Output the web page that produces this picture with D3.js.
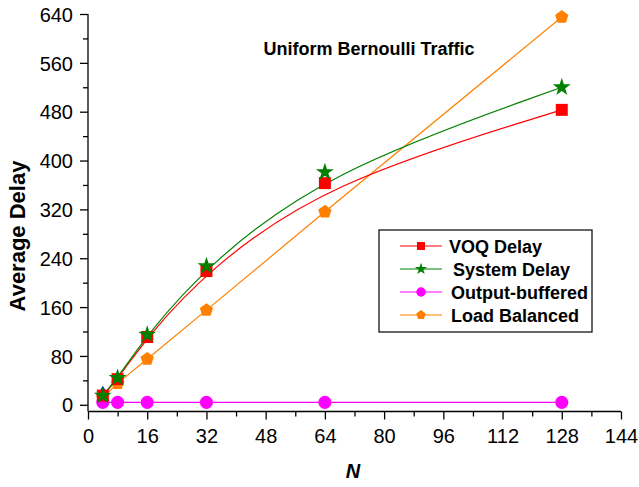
<!DOCTYPE html>
<html><head><meta charset="utf-8">
<script src="https://cdn.jsdelivr.net/npm/d3@7"></script>
<style>body{margin:0;background:#fff}text{font-family:"Liberation Sans",Arial,sans-serif}</style>
</head><body><svg id="c" width="639" height="487"></svg>
<script>
const nValues = [4, 8, 16, 32, 64, 128];
const voqDelay = [15, 42, 111, 219, 363, 483];
const systemDelay = [15, 44, 115, 227, 381, 520];
const outputBuffered = [4, 4, 4, 4, 4, 4];
const loadBalanced = [12, 35, 75, 155, 316, 635];
const extraN = [4];
const extraSeries = [20];
const xTicks = [0,16,32,48,64,80,96,112,128,144];
const yTicks = [0,80,160,240,320,400,480,560,640];

const svg = d3.select("#c");
const x = d3.scaleLinear().domain([0,144]).range([88,621]);
const y = d3.scaleLinear().domain([-11,640]).range([411.5,14]);

// axes
const xAxis = d3.axisBottom(x).tickValues(d3.range(0,145,8)).tickSize(7)
  .tickFormat(d => xTicks.includes(d) ? d : "");
const gx = svg.append("g").attr("transform",`translate(0,${y(-11)})`).call(xAxis);
gx.selectAll(".tick line").attr("y2", d => xTicks.includes(d) ? 8 : 5);
const yAxis = d3.axisLeft(y).tickValues(d3.range(0,641,40)).tickSize(7)
  .tickFormat(d => yTicks.includes(d) ? d : "");
const gy = svg.append("g").attr("transform",`translate(${x(0)},0)`).call(yAxis);
gy.selectAll(".tick line").attr("x2", d => yTicks.includes(d) ? -8 : -5);
[gx,gy].forEach(g=>{
  g.select(".domain").attr("stroke","#000").attr("stroke-width",1.3).attr("d", g===gx ? `M${x(0)},0H${x(144)}` : `M0,${y(640)}V${y(-11)}`);
  g.selectAll(".tick line").attr("stroke","#000").attr("stroke-width",1.3);
  g.selectAll(".tick text").attr("font-size",20).attr("fill","#000").attr("font-family","Liberation Sans, Arial, sans-serif");
});
gx.selectAll(".tick text").attr("y",31.5).attr("dy",0);
gy.selectAll(".tick text").attr("x",-15).attr("dy","0.36em");

// labels
svg.append("text").attr("x",353).attr("y",478).attr("text-anchor","middle")
  .attr("font-size",20).attr("font-weight","bold").attr("font-style","italic").text("N");
svg.append("text").attr("transform","translate(25,236) rotate(-90)").attr("text-anchor","middle")
  .attr("font-size",22).attr("font-weight","bold").text("Average Delay");
svg.append("text").attr("x",369).attr("y",55).attr("text-anchor","middle")
  .attr("font-size",18).attr("font-weight","bold").text("Uniform Bernoulli Traffic");

function pts(xs, ys){ return xs.map((n,i)=>[n,ys[i]]); }
const smooth = d3.line().x(d=>x(d[0])).y(d=>y(d[1])).curve(d3.curveBasis);
const straight = d3.line().x(d=>x(d[0])).y(d=>y(d[1]));

const series = [
  {name:"Load Balanced", data:pts(nValues,loadBalanced), color:"#ff8000", line:straight, shape:"pent", size:7},
  {name:"Output-buffered", data:pts(nValues,outputBuffered), color:"#ff00ff", line:straight, shape:"circle", size:135},
  {name:"VOQ Delay", data:pts(nValues,voqDelay), color:"#ff0000", line:smooth, shape:"square", size:144},
  {name:"System Delay", data:pts(nValues,systemDelay), color:"#008000", line:smooth, shape:"star", size:100},
];

function pentagonPath(r){
  let p=[];
  for(let i=0;i<5;i++){const a=-Math.PI/2+i*2*Math.PI/5;p.push([r*Math.cos(a),r*Math.sin(a)]);}
  return "M"+p.map(q=>q.join(",")).join("L")+"Z";
}
function markerPath(shape,size){
  if(shape==="pent") return pentagonPath(size);
  if(shape==="circle") return d3.symbol(d3.symbolCircle,size)();
  if(shape==="square") return d3.symbol(d3.symbolSquare,size)();
  if(shape==="star") return d3.symbol(d3.symbolStar,size)();
  if(shape==="tri") return d3.symbol(d3.symbolTriangle,size)();
}

// extra blue triangle point
svg.selectAll(".ex").data(pts(extraN,extraSeries)).enter().append("path")
  .attr("d",markerPath("tri",60)).attr("fill","#0000ff")
  .attr("transform",d=>`translate(${x(d[0])},${y(d[1])})`);

series.forEach(s=>{
  svg.append("path").attr("d",s.line(s.data)).attr("fill","none").attr("stroke",s.color).attr("stroke-width",1.2);
});
series.forEach(s=>{
  svg.selectAll(null).data(s.data).enter().append("path")
    .attr("d",markerPath(s.shape,s.size)).attr("fill",s.color)
    .attr("transform",d=>`translate(${x(d[0])},${y(d[1])})`);
});

// legend
const lg = svg.append("g");
lg.append("rect").attr("x",379).attr("y",230).attr("width",213).attr("height",102)
  .attr("fill","#fff").attr("stroke","#000").attr("stroke-width",1.2);
const legendItems = [
  {name:"VOQ Delay", color:"#ff0000", shape:"square", size:64, dx:0},
  {name:"System Delay", color:"#008000", shape:"star", size:45, dx:4},
  {name:"Output-buffered", color:"#ff00ff", shape:"circle", size:70, dx:2},
  {name:"Load Balanced", color:"#ff8000", shape:"pent", size:5, dx:2},
];
legendItems.forEach((it,i)=>{
  const yy = 246 + i*23;
  lg.append("line").attr("x1",400).attr("x2",442).attr("y1",yy).attr("y2",yy).attr("stroke",it.color).attr("stroke-width",1.2);
  lg.append("path").attr("d",markerPath(it.shape,it.size)).attr("fill",it.color).attr("transform",`translate(421,${yy})`);
  lg.append("text").attr("x",449+it.dx).attr("y",yy+6.5).attr("font-size",18).attr("font-weight","bold").text(it.name);
});
</script></body></html>
